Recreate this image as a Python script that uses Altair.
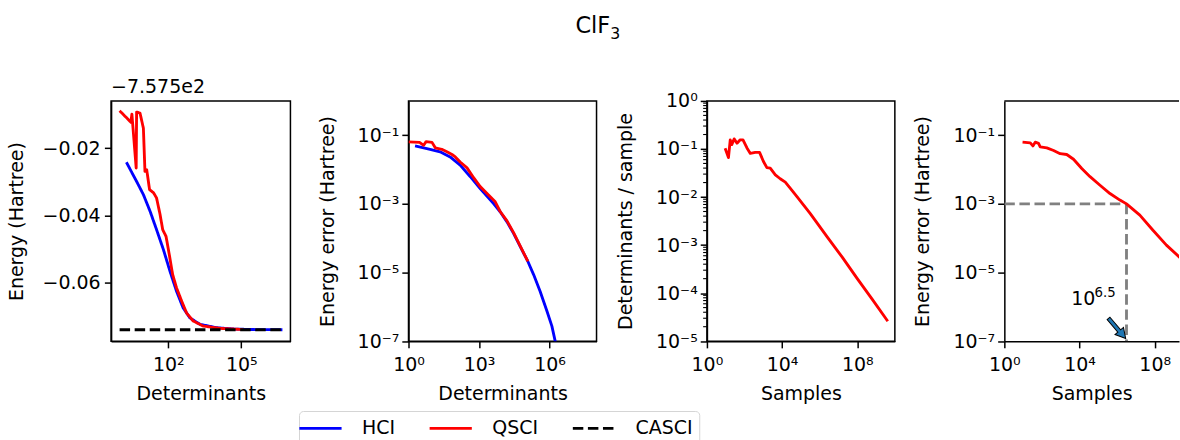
import altair as alt
import pandas as pd

FONT = "DejaVu Sans"
BLUE, RED, BLACK, GREY, ARROW_BLUE = "#0000ff", "#ff0000", "#000000", "#808080", "#1f77b4"

# ---------------- values ----------------
methods = ["HCI", "QSCI", "CASCI"]
title_main, title_sub = "ClF", "3"

# Panel 1: total energy (Hartree) vs number of determinants
energy_offset = -757.5
offset_label = "\u22127.575e2"
hci_dets_p1 = [1.9, 5.0, 9.5, 18, 33, 63, 117, 219, 407, 776, 2000, 9550, 5.0e4, 3.2e5, 4.9e6]
hci_energy_p1 = [-757.5242, -757.5299, -757.5338, -757.5388, -757.5442, -757.5501, -757.5565,
                 -757.5625, -757.5674, -757.5704, -757.5723, -757.5733, -757.5737, -757.57385, -757.5739]
qsci_dets_p1 = [1, 2.9, 3.2, 4.8, 5.0, 6.9, 9.5, 11, 13, 17, 25, 33, 46, 59, 81, 110, 151, 219,
                355, 562, 1050, 2700, 13000, 1.2e5]
qsci_energy_p1 = [-757.5089, -757.5123, -757.5099, -757.5259, -757.5093, -757.5096, -757.5141,
                  -757.5269, -757.5264, -757.5323, -757.5333, -757.5348, -757.5397, -757.5442,
                  -757.5462, -757.5516, -757.5575, -757.5615, -757.5654, -757.5689, -757.5713,
                  -757.5728, -757.5735, -757.57385]
casci_dets = [1, 4.9e6]
casci_energy = -757.5739

# Panel 2: energy error vs determinants
hci_dets_p2 = [1.9, 8.3, 22, 59, 158, 427, 1120, 4170, 7940, 15500, 29500, 56200, 1.2e5, 2.1e5,
               4.0e5, 7.8e5, 1.26e6, 1.74e6, 4.9e6]
hci_err_p2 = [0.049, 0.039, 0.033, 0.0234, 0.0135, 0.0062, 0.0028, 1.02e-3, 5.9e-4, 3.0e-4,
              1.38e-4, 5.8e-5, 2.1e-5, 8.7e-6, 2.8e-6, 7.4e-7, 2.75e-7, 1.0e-7, 2.5e-9]
qsci_dets_p2 = [1, 2.95, 4.4, 5.6, 10, 13.8, 26, 43, 71, 98, 158, 309, 589, 1120, 2190, 4900,
                7940, 15500, 29500, 56200, 1.2e5]
qsci_err_p2 = [0.064, 0.062, 0.051, 0.065, 0.062, 0.043, 0.039, 0.033, 0.0275, 0.0234, 0.0166,
               0.0112, 0.0058, 0.0032, 0.0020, 1.15e-3, 6.0e-4, 3.2e-4, 1.45e-4, 6.0e-5, 2.1e-5]

# Panel 3: determinants per sample vs samples
samples_p3 = [9.3, 14, 17.4, 21, 28, 40, 59, 83, 135, 204, 372, 631, 1020, 1550, 2340, 4370,
              7940, 14800, 27500, 61700, 3.16e5, 2.5e6, 1.58e7, 1.0e8, 6.3e8, 4.2e9]
dets_per_sample = [0.104, 0.066, 0.155, 0.123, 0.162, 0.132, 0.155, 0.155, 0.105, 0.081, 0.085,
                   0.085, 0.055, 0.041, 0.040, 0.029, 0.024, 0.0204, 0.0151, 0.0102, 0.0045,
                   1.48e-3, 5.6e-4, 2.0e-4, 7.4e-5, 2.6e-5]

# Panel 4: energy error vs samples
samples_p4 = [9.3, 24, 33, 44, 66, 81, 182, 417, 933, 2090, 4790, 13200, 36300, 1.23e5, 4.17e5,
              1.41e6, 3.16e6, 1.62e7, 8.1e7, 4.2e8, 1.95e9, 4.2e9]
err_p4 = [0.063, 0.060, 0.049, 0.063, 0.058, 0.046, 0.043, 0.036, 0.029, 0.0275, 0.020, 0.0107,
          0.0062, 0.0035, 0.0020, 1.29e-3, 1.0e-3, 4.7e-4, 1.7e-4, 6.3e-5, 2.9e-5, 1.9e-5]

# Panel 4 annotation
annot_samples = 10 ** 6.5
annot_err = 1e-3
annot_floor = 1e-7
annot_text_base, annot_text_exp = "10", "6.5"
arrow_x, arrow_y = 10 ** 6.0, 10 ** -6.63
text_base_x, text_base_y = 10 ** 3.56, 10 ** -5.955
text_exp_x, text_exp_y = 10 ** 4.8, 10 ** -5.72

# ---------------- layout constants ----------------
W1, W2, W3, W4 = 179.7, 188.4, 188.3, 175
PX_PER_DECADE_4 = 18.83   # the last panel is cut by the figure edge
H = 240.7
GAP1, GAP2, GAP3 = 117.6, 110.0, 109.0
LW = 2.85
DASH = [10.5, 4.6]

SUP = "['\u2070','\u00b9','\u00b2','\u00b3','\u2074','\u2075','\u2076','\u2077','\u2078','\u2079']"
POW = ("'10' + (round(log(datum.value)/LN10) < 0 ? '\u207b' : '') + " + SUP
       + "[abs(round(log(datum.value)/LN10))]")

XE = 34


def xaxis(values, title):
    return alt.Axis(values=values, labelExpr=POW, title=title, labelPadding=8.15,
                    minExtent=XE, maxExtent=XE, titlePadding=43.8 - XE)


def yaxis_pow(values, title):
    return alt.Axis(values=values, labelExpr=POW, title=title, labelPadding=3,
                    minExtent=58, maxExtent=58, titlePadding=13.5)


color_scale = alt.Scale(domain=methods, range=[BLUE, RED, BLACK])
dash_scale = alt.Scale(domain=methods, range=[[1, 0], [1, 0], DASH])
legend_def = alt.Legend(title=None, orient="none", legendX=188.3, legendY=310.7,
                        direction="horizontal", symbolType="M-2.35,0L2.35,0", symbolSize=324,
                        symbolOffset=4.3, symbolStrokeWidth=LW, labelFont=FONT,
                        labelFontSize=19, labelColor="black", labelOffset=31.1,
                        columnPadding=27.5, padding=6.7, strokeColor="#d5d5d5",
                        fillColor="white", cornerRadius=4)

# ---------------- panel 1 ----------------
df1 = pd.concat([
    pd.DataFrame({"det": hci_dets_p1, "E": hci_energy_p1, "method": "HCI"}),
    pd.DataFrame({"det": qsci_dets_p1, "E": qsci_energy_p1, "method": "QSCI"}),
    pd.DataFrame({"det": casci_dets, "E": [casci_energy] * len(casci_dets), "method": "CASCI"}),
])
df1["dE"] = df1["E"] - energy_offset

xs1 = alt.Scale(type="log", domain=[10 ** -0.35, 10 ** 7.02], nice=False)
ys1 = alt.Scale(domain=[-0.0773, -0.0060], nice=False, zero=False)
ax1y = alt.Axis(values=[-0.06, -0.04, -0.02], format=".2f", title="Energy (Hartree)",
                labelPadding=4.3, minExtent=70, maxExtent=70, titlePadding=14.8)


def p1_line(name):
    return alt.Chart(df1).transform_filter(alt.datum.method == name).mark_line(
        strokeWidth=LW, strokeJoin="round", clip=True
    ).encode(
        x=alt.X("det:Q", scale=xs1, axis=xaxis([1e2, 1e5], "Determinants")),
        y=alt.Y("dE:Q", scale=ys1, axis=ax1y),
        color=alt.Color("method:N", scale=color_scale, legend=legend_def),
        strokeDash=alt.StrokeDash("method:N", scale=dash_scale, legend=legend_def),
    )


offset_text = alt.Chart(pd.DataFrame({"t": [offset_label]})).mark_text(
    align="left", baseline="alphabetic", font=FONT, fontSize=19, color="black"
).encode(x=alt.value(0), y=alt.value(-7.6), text="t:N")

# figure title (ClF with subscript 3), placed relative to the first panel
title_a = alt.Chart(pd.DataFrame({"t": [title_main]})).mark_text(
    align="left", baseline="alphabetic", font=FONT, fontSize=22.5, color="black"
).encode(x=alt.value(465.2), y=alt.value(-67.6), text="t:N")
title_b = alt.Chart(pd.DataFrame({"t": [title_sub]})).mark_text(
    align="left", baseline="alphabetic", font=FONT, fontSize=15.75, color="black"
).encode(x=alt.value(500.1), y=alt.value(-62.4), text="t:N")

p1 = alt.layer(p1_line("HCI"), p1_line("QSCI"), p1_line("CASCI"), offset_text,
               title_a, title_b).properties(width=W1, height=H)

# ---------------- panel 2 ----------------
df2h = pd.DataFrame({"det": hci_dets_p2, "err": hci_err_p2})
df2q = pd.DataFrame({"det": qsci_dets_p2, "err": qsci_err_p2})
xs2 = alt.Scale(type="log", domain=[1, 1e8], nice=False)
ys2 = alt.Scale(type="log", domain=[1e-7, 1], nice=False)
enc2 = dict(
    x=alt.X("det:Q", scale=xs2, axis=xaxis([1, 1e3, 1e6], "Determinants")),
    y=alt.Y("err:Q", scale=ys2, axis=yaxis_pow([1e-1, 1e-3, 1e-5, 1e-7], "Energy error (Hartree)")),
)
p2 = alt.layer(
    alt.Chart(df2h).mark_line(color=BLUE, strokeWidth=LW, strokeJoin="round", clip=True).encode(**enc2),
    alt.Chart(df2q).mark_line(color=RED, strokeWidth=LW, strokeJoin="round", clip=True).encode(**enc2),
).properties(width=W2, height=H)

# ---------------- panel 3 ----------------
df3 = pd.DataFrame({"s": samples_p3, "d": dets_per_sample})
xs3 = alt.Scale(type="log", domain=[1, 1e10], nice=False)
ys3 = alt.Scale(type="log", domain=[1e-5, 1], nice=False)
Y3 = alt.Y("d:Q", scale=ys3, axis=yaxis_pow([1, 1e-1, 1e-2, 1e-3, 1e-4, 1e-5],
                                             "Determinants / sample"))
minor3 = pd.DataFrame({"d": [m * 10.0 ** e for e in range(-5, 0) for m in range(2, 10)]})
p3 = alt.layer(
    alt.Chart(df3).mark_line(color=RED, strokeWidth=LW, strokeJoin="round", clip=True).encode(
        x=alt.X("s:Q", scale=xs3, axis=xaxis([1, 1e4, 1e8], "Samples")),
        y=Y3,
    ),
    alt.Chart(minor3).mark_rule(color="black", strokeWidth=1.1).encode(
        y=Y3, x=alt.value(0), x2=alt.value(-3.8)),
).properties(width=W3, height=H)

# ---------------- panel 4 (cut by the right edge of the figure) ----------------
df4 = pd.DataFrame({"s": samples_p4, "e": err_p4})
xs4 = alt.Scale(type="log", domain=[1, 10 ** (W4 / PX_PER_DECADE_4)], nice=False)
ys4 = alt.Scale(type="log", domain=[1e-7, 1], nice=False)
X4 = alt.X("s:Q", scale=xs4, axis=xaxis([1, 1e4, 1e8], "Samples"))
Y4 = alt.Y("e:Q", scale=ys4, axis=yaxis_pow([1e-1, 1e-3, 1e-5, 1e-7], "Energy error (Hartree)"))
guides = pd.DataFrame({
    "s": [1, annot_samples, annot_samples, annot_samples],
    "e": [annot_err, annot_err, annot_err, annot_floor],
    "seg": ["h", "h", "v", "v"],
})
ARROW = "M-1,-0.14L0.25,-0.14L0.25,-0.42L1,0L0.25,0.42L0.25,0.14L-1,0.14Z"
p4 = alt.layer(
    alt.Chart(guides).mark_line(color=GREY, strokeWidth=LW, strokeDash=DASH, clip=True).encode(
        x=X4, y=Y4, detail="seg:N"),
    alt.Chart(df4).mark_line(color=RED, strokeWidth=LW, strokeJoin="round", clip=True).encode(x=X4, y=Y4),
    alt.Chart(pd.DataFrame({"s": [arrow_x], "e": [arrow_y]})).mark_point(
        shape=ARROW, size=700, angle=49.6, filled=True, fill=ARROW_BLUE, stroke="black",
        strokeWidth=1, opacity=1).encode(x=X4, y=Y4),
    alt.Chart(pd.DataFrame({"s": [text_base_x], "e": [text_base_y], "t": [annot_text_base]})).mark_text(
        align="left", baseline="alphabetic", font=FONT, fontSize=19, color="black").encode(
        x=X4, y=Y4, text="t:N"),
    alt.Chart(pd.DataFrame({"s": [text_exp_x], "e": [text_exp_y], "t": [annot_text_exp]})).mark_text(
        align="left", baseline="alphabetic", font=FONT, fontSize=13.3, color="black").encode(
        x=X4, y=Y4, text="t:N"),
    alt.Chart(pd.DataFrame({"a": [0]})).mark_rule(color="black", strokeWidth=1.5).encode(
        x=alt.value(0), x2=alt.value(W4), y=alt.value(0)),
).properties(width=W4, height=H, view=alt.ViewBackground(strokeOpacity=0))


def spacer(w):
    return alt.Chart(pd.DataFrame({"a": [0]})).mark_point(opacity=0).encode(
        x=alt.value(0), y=alt.value(0)
    ).properties(width=w, height=H, view=alt.ViewBackground(strokeOpacity=0))


chart = alt.hconcat(
    p1, spacer(GAP1), p2, spacer(GAP2), p3, spacer(GAP3), p4, spacing=0, bounds="flush"
).properties(
    padding={"left": 6.3, "top": 13.7, "right": 0, "bottom": 0},
    background="white",
).configure_view(
    stroke="black", strokeWidth=1.5
).configure_axis(
    grid=False, domain=True, domainColor="black", domainWidth=1.5, tickColor="black",
    tickWidth=1.5, tickSize=6.7, labelFont=FONT, labelFontSize=19, labelColor="black",
    titleFont=FONT, titleFontSize=19, titleFontWeight="normal", titleColor="black",
    labelFlush=False, labelOverlap=False, labelBound=False,
)

chart.save("out.html", embed_options={"renderer": "svg", "actions": False})
